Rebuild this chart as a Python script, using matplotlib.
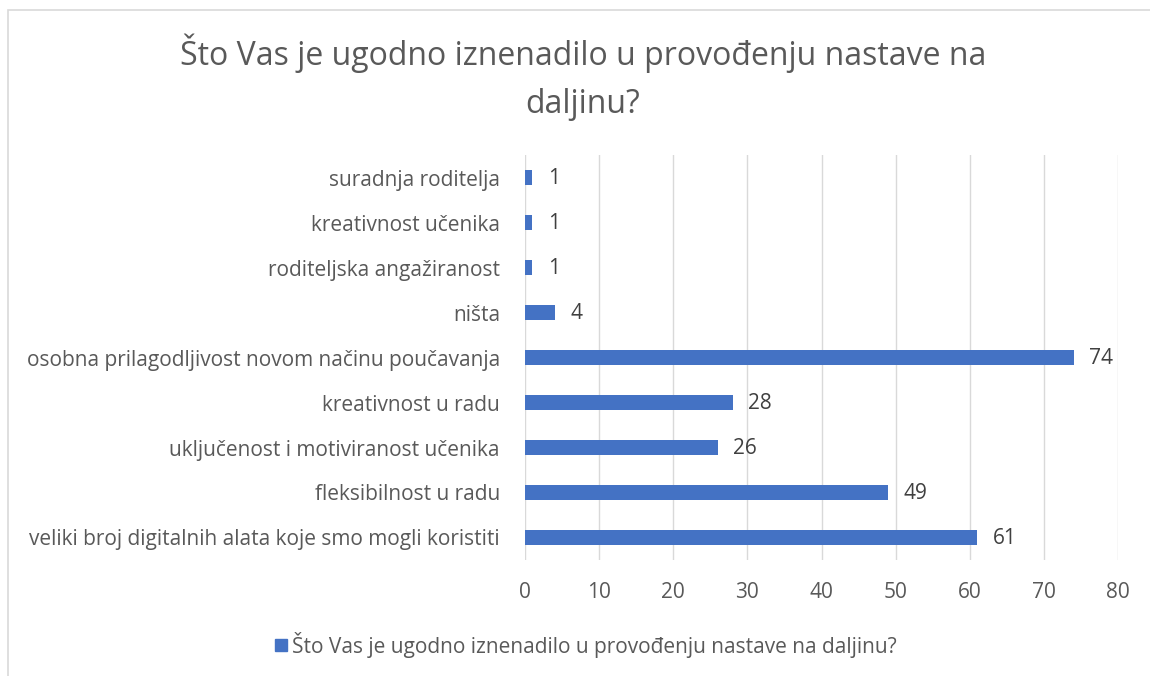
import matplotlib
matplotlib.use("Agg")
from matplotlib import pyplot
from matplotlib.patches import Rectangle

title = "Što Vas je ugodno iznenadilo u provođenju nastave na\ndaljinu?"
seriesName = "Što Vas je ugodno iznenadilo u provođenju nastave na daljinu?"

categories = [
    "veliki broj digitalnih alata koje smo mogli koristiti",
    "fleksibilnost u radu",
    "uključenost i motiviranost učenika",
    "kreativnost u radu",
    "osobna prilagodljivost novom načinu poučavanja",
    "ništa",
    "roditeljska angažiranost",
    "kreativnost učenika",
    "suradnja roditelja",
]
values = [61, 49, 26, 28, 74, 4, 1, 1, 1]
xticks = [0, 10, 20, 30, 40, 50, 60, 70, 80]

barColor = "#4472C4"
textColor = "#595959"


def main():
    pyplot.rcParams["font.family"] = ["Open Sans", "DejaVu Sans"]
    figure = pyplot.figure(figsize=(11.5, 6.76), dpi=100)
    axes = figure.add_axes([0.4565, 0.1716, 0.5157, 0.5991])

    positions = range(len(categories))
    axes.barh(positions, values, height=0.33, color=barColor, zorder=3)
    for y, v in zip(positions, values):
        axes.text(v + 2.1, y - 0.03, str(v), va="center", ha="left",
                  fontsize=15, color="#404040")

    axes.set_xlim(0, 80)
    axes.set_ylim(-0.5, len(categories) - 0.5)
    axes.set_xticks(xticks)
    axes.set_xticklabels([str(t) for t in xticks])
    axes.set_yticks(list(positions))
    axes.set_yticklabels(categories)
    axes.tick_params(axis="both", length=0, labelsize=15, colors=textColor)
    axes.tick_params(axis="y", pad=18)
    axes.tick_params(axis="x", pad=16)
    axes.grid(axis="x", color="#D9D9D9", linewidth=1, zorder=0)
    for spine in axes.spines.values():
        spine.set_visible(False)

    figure.text(0.507, 0.8854, title, ha="center", va="center",
                fontsize=23, color=textColor, linespacing=1.6)

    figure.patches.append(Rectangle((275 / 1150, 1 - 651 / 676), 12 / 1150, 12 / 676,
                                    transform=figure.transFigure, color=barColor))
    figure.text(292 / 1150, 1 - 645 / 676, seriesName, ha="left", va="center",
                fontsize=15, color=textColor)

    figure.patches.append(Rectangle((8 / 1150, -0.1), 1.2, 1 - 10 / 676 + 0.1,
                                    transform=figure.transFigure, fill=False,
                                    edgecolor="#D9D9D9", linewidth=1.2))

    figure.savefig("out.png", dpi=100)


main()
